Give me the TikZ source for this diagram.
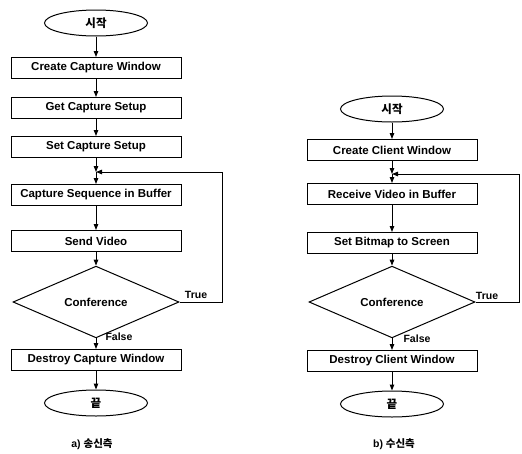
\documentclass[tikz,border=0pt]{standalone}
\usepackage{fontspec}
\setmainfont{Liberation Sans}
\newfontfamily\kr{Noto Sans CJK KR}
\usetikzlibrary{shapes.geometric, arrows.meta, positioning, calc}

\begin{document}
\begin{tikzpicture}[x=1pt, y=-1pt,
  font=\fontsize{11.5}{13}\selectfont\bfseries,
  proc/.style={draw, line width=1pt, minimum width=170pt, minimum height=21pt, inner sep=0pt},
  term/.style={draw, ellipse, line width=1pt, minimum width=103pt, minimum height=26pt, inner sep=0pt},
  dec/.style={draw, diamond, line width=1pt, minimum width=166pt, minimum height=54pt, inner sep=0pt},
  arr/.style={-{Triangle[length=6pt,width=4.5pt]}, line width=1pt},
  lab/.style={font=\fontsize{10.5}{12}\selectfont\bfseries, inner sep=0pt}]
\useasboundingbox (0,0) rectangle (522,453);

% a) sender side
\node[term] (sa) at (96,23) {\kr 시작};
\node[proc] (a1) at (96,68) {Create Capture Window};
\node[proc] (a2) at (96,108) {Get Capture Setup};
\node[proc] (a3) at (96,147) {Set Capture Setup};
\coordinate (ja) at (96,172);
\node[proc] (a4) at (96,195) {Capture Sequence in Buffer};
\node[proc] (a5) at (96,241) {Send Video};
\node[dec] (da) at (96,302) {Conference};
\node[proc] (a6) at (96,360) {Destroy Capture Window};
\node[term] (ea) at (96,403) {\kr 끝};
\coordinate (ra) at (222,172);

\draw[arr] (sa) -- (a1);
\draw[arr] (a1) -- (a2);
\draw[arr] (a2) -- (a3);
\draw[arr] (a3) -- (ja);
\draw[arr] (ja) -- (a4);
\draw[arr] (a4) -- (a5);
\draw[arr] (a5) -- (da);
\draw[arr] (da) -- (a6);
\draw[arr] (a6) -- (ea);
\draw[arr] (da.east) -| (ra) -- (ja);
\node[lab] (ta) at (196,295) {True};
\node[lab] (fa) at (119,337) {False};
\node[lab] (ca) at (92,444) {a) {\kr 송신측}};

% b) receiver side
\node[term] (sb) at (392,109) {\kr 시작};
\node[proc] (b1) at (392,150) {Create Client Window};
\coordinate (jb) at (392,174);
\node[proc] (b2) at (392,194) {Receive Video in Buffer};
\node[proc] (b3) at (392,243) {Set Bitmap to Screen};
\node[dec] (db) at (392,302) {Conference};
\node[proc] (b4) at (392,361) {Destroy Client Window};
\node[term] (eb) at (392,404) {\kr 끝};
\coordinate (rb) at (519,174);

\draw[arr] (sb) -- (b1);
\draw[arr] (b1) -- (jb);
\draw[arr] (jb) -- (b2);
\draw[arr] (b2) -- (b3);
\draw[arr] (b3) -- (db);
\draw[arr] (db) -- (b4);
\draw[arr] (b4) -- (eb);
\draw[arr] (db.east) -| (rb) -- (jb);
\node[lab] (tb) at (487,296) {True};
\node[lab] (fb) at (417,339) {False};
\node[lab] (cb) at (394,444) {b) {\kr 수신측}};
\end{tikzpicture}
\end{document}
